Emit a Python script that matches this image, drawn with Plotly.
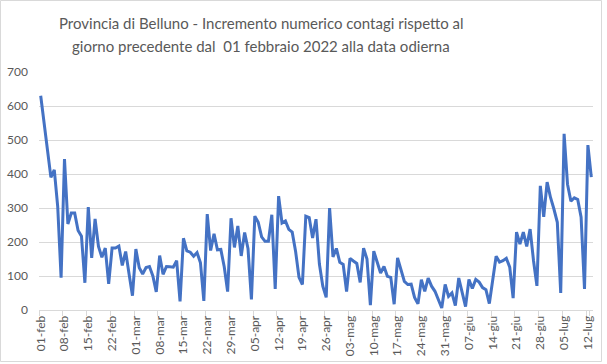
import plotly.graph_objects as go
import pandas as pd

# Daily increments, 01-feb-2022 .. 13-lug-2022
values = [
    630, 545, 460, 390, 412, 305, 95, 444, 253, 285, 285, 234, 217, 80,
    303, 153, 268, 187, 155, 182, 77, 182, 182, 188, 131, 172, 106, 42,
    179, 124, 106, 125, 128, 100, 53, 160, 105, 128, 127, 126, 145, 25,
    211, 174, 170, 158, 169, 139, 27, 282, 175, 224, 177, 178, 127, 54,
    270, 184, 247, 159, 228, 180, 31, 276, 258, 215, 202, 202, 280, 62,
    335, 256, 262, 237, 229, 172, 96, 75, 276, 272, 212, 267, 135, 70,
    37, 300, 156, 181, 140, 134, 54, 152, 144, 137, 81, 182, 150, 14,
    173, 138, 109, 128, 99, 96, 17, 153, 117, 84, 75, 76, 37, 18,
    89, 55, 94, 70, 55, 28, 6, 75, 40, 50, 13, 94, 55, 10,
    90, 63, 90, 82, 66, 60, 19, 92, 158, 141, 145, 152, 126, 35,
    229, 194, 229, 187, 238, 145, 71, 365, 274, 376, 331, 297, 258, 50,
    518, 370, 320, 330, 325, 273, 62, 485, 391,
]
start_date = "2022-02-01"
month_abbr = ["gen", "feb", "mar", "apr", "mag", "giu",
              "lug", "ago", "set", "ott", "nov", "dic"]
dates = pd.date_range(start_date, periods=len(values), freq="D")
categories = [f"{d.day:02d}-{month_abbr[d.month - 1]}" for d in dates]
tick_labels = categories[::7]

title_lines = [
    "Provincia di Belluno - Incremento numerico contagi rispetto al",
    "giorno precedente dal  01 febbraio 2022 alla data odierna",
]

W, H = 607, 364
L, R, T, B = 39, 14, 72, 54
pw, ph = W - L - R, H - T - B


def px_x(p):
    return (p - L) / pw


def px_y(p):
    return (H - B - p) / ph


fig = go.Figure()
fig.add_trace(go.Scatter(
    x=categories, y=values, mode="lines",
    line=dict(color="#4472C4", width=3),
    hoverinfo="skip",
))

title_font = dict(family="Lato, Carlito, sans-serif", size=15, color="#595959")
annotations = [
    dict(text=title_lines[0], xref="paper", yref="paper",
         x=px_x(261), y=px_y(23), xanchor="center", yanchor="middle",
         showarrow=False, font=title_font),
    dict(text=title_lines[1], xref="paper", yref="paper",
         x=px_x(261), y=px_y(46), xanchor="center", yanchor="middle",
         showarrow=False, font=title_font),
]

fig.update_layout(
    width=W, height=H,
    margin=dict(l=L, r=R, t=T, b=B, autoexpand=False),
    paper_bgcolor="white", plot_bgcolor="white",
    showlegend=False,
    font=dict(family="Lato, Carlito, sans-serif", color="#595959", size=12),
    annotations=annotations,
    xaxis=dict(
        type="category",
        range=[-0.5, len(values) - 0.5],
        tickmode="array", tickvals=tick_labels, ticktext=tick_labels,
        tickson="boundaries",
        ticks="outside", ticklen=5, tickcolor="#d9d9d9", tickwidth=1,
        tickangle=-90,
        showgrid=False, showline=True, linecolor="#d9d9d9", linewidth=1,
        tickfont=dict(size=12, color="#595959"),
        zeroline=False, fixedrange=True, automargin=False,
    ),
    yaxis=dict(
        range=[0, 700], tickmode="linear", tick0=0, dtick=100,
        showgrid=True, gridcolor="#d9d9d9", gridwidth=1,
        zeroline=False, showline=False, ticks="",
        ticklabelstandoff=10,
        tickfont=dict(size=12, color="#595959"),
        fixedrange=True, automargin=False,
    ),
    shapes=[dict(
        type="rect", xref="paper", yref="paper",
        x0=px_x(0.5), x1=px_x(601.5), y0=px_y(361.5), y1=px_y(0.5),
        line=dict(color="#d9d9d9", width=1), fillcolor="rgba(0,0,0,0)",
        layer="below",
    )],
)

fig.write_html(
    "out.html",
    config={"displayModeBar": False, "staticPlot": True},
    post_script="document.body.style.margin='0px';"
                "document.body.style.overflow='hidden';",
)
